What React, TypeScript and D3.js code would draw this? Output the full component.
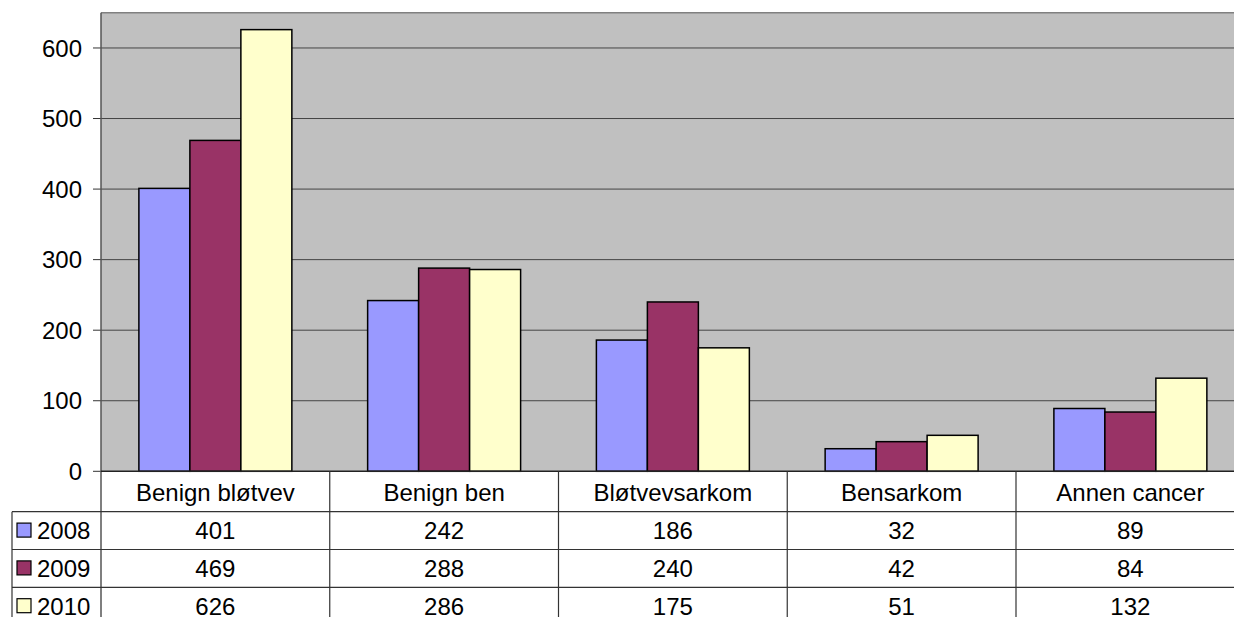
import React from "react";
import * as d3 from "d3";

const categories = ["Benign bløtvev", "Benign ben", "Bløtvevsarkom", "Bensarkom", "Annen cancer"];
const seriesNames = ["2008", "2009", "2010"];
const values2008 = [401, 242, 186, 32, 89];
const values2009 = [469, 288, 240, 42, 84];
const values2010 = [626, 286, 175, 51, 132];
const seriesColors = ["#9999FF", "#993366", "#FFFFCC"];
const yTicks = [0, 100, 200, 300, 400, 500, 600];

const series = [values2008, values2009, values2010];

export default function App() {
  const W = 1234, H = 617;
  const left = 101, top = 12.7, bottom = 471.3;
  const right = 1244.75;
  const tableLeft = 12;
  const catRowH = 40.4;
  const rowH = 37.8;
  const font = "Liberation Sans, Arial, sans-serif";
  const fs = 24;

  const y = d3.scaleLinear().domain([0, 650]).range([bottom, top]);
  const x = d3.scaleBand<string>().domain(categories).range([left, right]).padding(0);
  const xs = d3.scaleBand<string>().domain(seriesNames).range([0, x.bandwidth()]).paddingInner(0).paddingOuter(0.743);

  const rowTop = (i: number) => bottom + catRowH + i * rowH;

  return (
    <svg width={W} height={H} style={{ position: "absolute", left: 0, top: 0, background: "#fff" }} fontFamily={font}>
      <rect x={left} y={top} width={right - left} height={bottom - top} fill="#C0C0C0" />
      <line x1={left} x2={right} y1={top} y2={top} stroke="#808080" strokeWidth={1.5} />
      {yTicks.map((t) => (
        <g key={t}>
          {t > 0 && <line x1={left} x2={right} y1={y(t)} y2={y(t)} stroke="#444" strokeWidth={1} />}
          <line x1={left - 8} x2={left} y1={y(t)} y2={y(t)} stroke="#333" strokeWidth={1} />
          <text x={82} y={y(t)} dy="0.36em" textAnchor="end" fontSize={fs} fill="#000">{t}</text>
        </g>
      ))}
      {categories.map((c, ci) => (
        <g key={c}>
          {series.map((s, si) => (
            <rect
              key={si}
              x={(x(c) as number) + (xs(seriesNames[si]) as number)}
              y={y(s[ci])}
              width={xs.bandwidth()}
              height={bottom - y(s[ci])}
              fill={seriesColors[si]}
              stroke="#000"
              strokeWidth={1.5}
            />
          ))}
        </g>
      ))}
      <line x1={left} x2={left} y1={top} y2={H} stroke="#555" strokeWidth={1.5} />
      <line x1={left} x2={right} y1={bottom} y2={bottom} stroke="#222" strokeWidth={1.5} />
      {categories.map((c, ci) => (
        <g key={"t" + c}>
          {ci > 0 && <line x1={x(c)} x2={x(c)} y1={bottom} y2={H} stroke="#333" strokeWidth={1.2} />}
          <text x={(x(c) as number) + x.bandwidth() / 2} y={bottom + catRowH / 2 + 1} dy="0.36em" textAnchor="middle" fontSize={fs} fill="#000">{c}</text>
          {series.map((s, si) => (
            <text key={si} x={(x(c) as number) + x.bandwidth() / 2} y={rowTop(si) + rowH / 2} dy="0.36em" textAnchor="middle" fontSize={fs} fill="#000">{s[ci]}</text>
          ))}
        </g>
      ))}
      {seriesNames.map((n, si) => (
        <g key={"r" + n}>
          <line x1={tableLeft} x2={right} y1={rowTop(si)} y2={rowTop(si)} stroke="#333" strokeWidth={1.2} />
          <rect x={17} y={rowTop(si) + rowH / 2 - 7.5} width={14} height={14} fill={seriesColors[si]} stroke="#000" strokeWidth={1.2} />
          <text x={37} y={rowTop(si) + rowH / 2} dy="0.36em" fontSize={fs} fill="#000">{n}</text>
        </g>
      ))}
      <line x1={tableLeft} x2={tableLeft} y1={rowTop(0)} y2={H} stroke="#333" strokeWidth={1.2} />
    </svg>
  );
}
